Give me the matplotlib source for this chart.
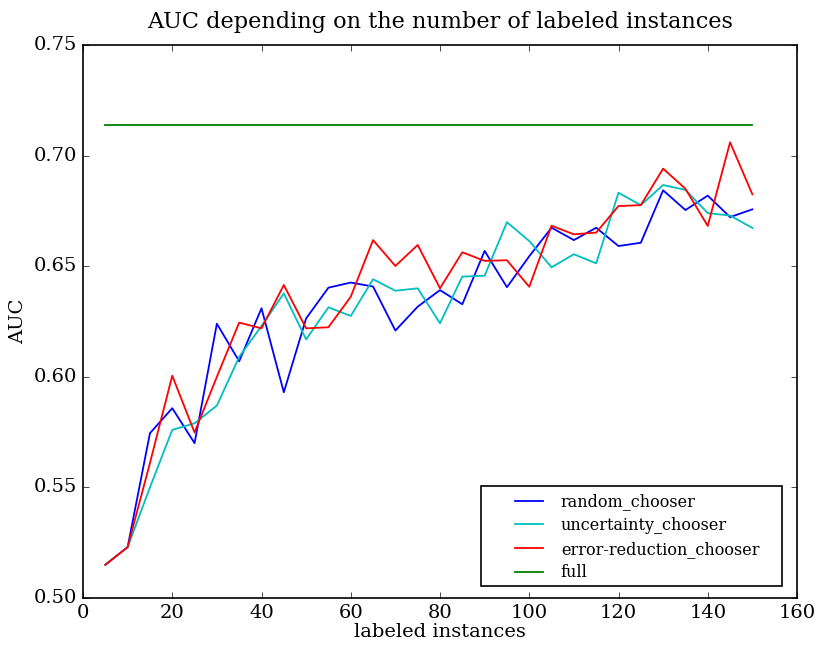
import matplotlib
matplotlib.use("Agg")
import matplotlib.pyplot as plt
from matplotlib.patches import Rectangle

plt.style.use("classic")
plt.rcParams["font.family"] = ["DejaVu Serif"]

x_vals = [5, 10, 15, 20, 25, 30, 35, 40, 45, 50, 55, 60, 65, 70, 75,
          80, 85, 90, 95, 100, 105, 110, 115, 120, 125, 130, 135, 140, 145, 150]

random_chooser = [0.515, 0.523, 0.5745, 0.5858, 0.5700, 0.6240, 0.6070, 0.6310, 0.5930, 0.6264,
                  0.6403, 0.6426, 0.6408, 0.6209, 0.6317, 0.6392, 0.6328, 0.6569, 0.6405, 0.6545,
                  0.6674, 0.6618, 0.6674, 0.6591, 0.6606, 0.6843, 0.6754, 0.6819, 0.6722, 0.6757]

uncertainty_chooser = [0.515, 0.523, 0.5500, 0.5760, 0.5790, 0.5870, 0.6090, 0.6230, 0.6377, 0.6169,
                       0.6314, 0.6275, 0.6441, 0.6389, 0.6400, 0.6242, 0.6453, 0.6457, 0.6699, 0.6614,
                       0.6495, 0.6554, 0.6513, 0.6832, 0.6776, 0.6867, 0.6845, 0.6740, 0.6729, 0.6673]

error_reduction_chooser = [0.515, 0.523, 0.5610, 0.6005, 0.5748, 0.6000, 0.6245, 0.6219, 0.6415, 0.6219,
                           0.6224, 0.6362, 0.6618, 0.6501, 0.6596, 0.6400, 0.6563, 0.6524, 0.6527, 0.6407,
                           0.6683, 0.6644, 0.6652, 0.6772, 0.6776, 0.6941, 0.6850, 0.6682, 0.7060, 0.6825]

full_value = 0.7138
full = [full_value] * len(x_vals)

W, H = 819, 645
fig = plt.figure(figsize=(W / 100, H / 100), dpi=100, facecolor="white")
ax = fig.add_axes([83 / W, 1 - 598 / H, (797 - 83) / W, (598 - 45) / H])

ax.plot(x_vals, random_chooser, color="b", lw=1.3, label="random_chooser")
ax.plot(x_vals, uncertainty_chooser, color="c", lw=1.3, label="uncertainty_chooser")
ax.plot(x_vals, error_reduction_chooser, color="r", lw=1.3, label="error-reduction_chooser")
ax.plot(x_vals, full, color="g", lw=1.3, label="full")

ax.set_xlim(0, 160)
ax.set_ylim(0.50, 0.75)
ax.set_xticks(range(0, 161, 20))
ax.set_yticks([0.50, 0.55, 0.60, 0.65, 0.70, 0.75])
ax.set_yticklabels(["0.50", "0.55", "0.60", "0.65", "0.70", "0.75"])
ax.tick_params(labelsize=14)
for s in ax.spines.values():
    s.set_linewidth(1.2)
ax.set_xlabel("labeled instances", fontsize=14, labelpad=1)
ax.set_ylabel("AUC", fontsize=14)
ax.set_title("AUC depending on the number of labeled instances", fontsize=16.1, pad=12)

# legend frame drawn separately (old-style generous padding)
frame = Rectangle((481 / W, 1 - 586 / H), (782 - 481) / W, (586 - 486) / H,
                  transform=fig.transFigure, facecolor="white", edgecolor="black",
                  lw=1.2, zorder=4, clip_on=False)
ax.add_patch(frame)

leg = ax.legend(loc="upper left", fontsize=11.5, frameon=False,
                bbox_to_anchor=(510 / W, 1 - 493.5 / H), bbox_transform=fig.transFigure,
                borderaxespad=0, borderpad=0,
                handlelength=2.375, handletextpad=0.81, labelspacing=0.41)
leg.set_zorder(5)

fig.savefig("out.png", dpi=100, facecolor="white")
